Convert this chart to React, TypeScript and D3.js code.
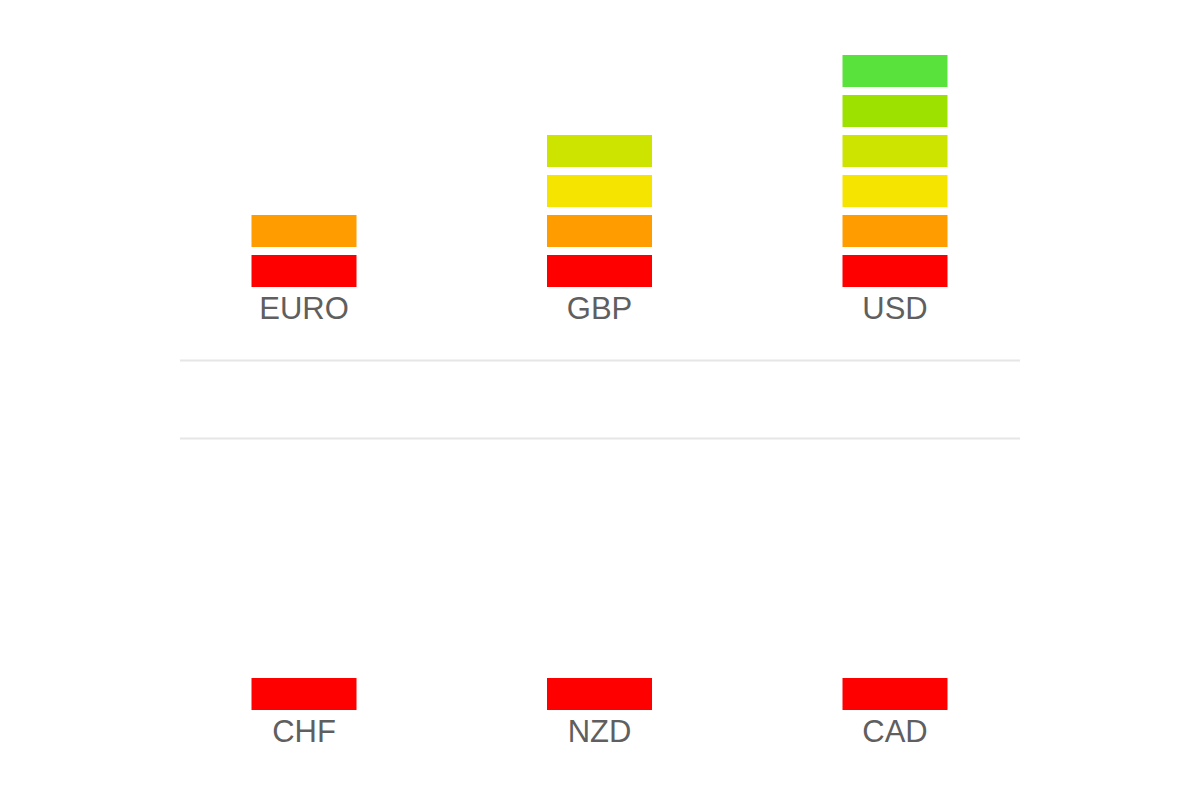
import React, { useEffect, useRef } from 'react';
import * as d3 from 'd3';

// strength levels per currency (number of stacked blocks)
const topCurrencies = ['EURO', 'GBP', 'USD'];
const topLevels = [2, 4, 6];
const bottomCurrencies = ['CHF', 'NZD', 'CAD'];
const bottomLevels = [1, 1, 1];

// colour for each block, from the bottom up
const levelColors = ['#ff0000', '#ff9c00', '#f5e300', '#cce400', '#9ce100', '#5ae23c'];

const App: React.FC = () => {
  const svgRef = useRef<SVGSVGElement>(null);

  useEffect(() => {
    if (!svgRef.current) return;
    const width = 1200;
    const height = 800;

    const svg = d3.select(svgRef.current);
    svg.selectAll('*').remove();
    svg.attr('viewBox', [0, 0, width, height]).attr('width', width).attr('height', height);

    svg.append('rect').attr('width', width).attr('height', height).attr('fill', '#ffffff');

    const x = d3.scalePoint<string>().domain(['0', '1', '2']).range([304, 895]);
    const blockWidth = 105;
    const gap = 8;

    const drawRow = (names: string[], levels: number[], baseY: number) => {
      const y = d3.scaleLinear().domain([0, 6]).range([baseY, baseY - 240]);
      const g = svg.append('g');
      names.forEach((name, i) => {
        const cx = x(String(i)) as number;
        const blocks = d3.range(levels[i]);
        g.selectAll(null)
          .data(blocks)
          .join('rect')
          .attr('x', cx - blockWidth / 2)
          .attr('y', (d) => y(d + 1))
          .attr('width', blockWidth)
          .attr('height', (d) => y(d) - y(d + 1) - gap)
          .attr('fill', (d) => levelColors[d]);
        g.append('text')
          .attr('x', cx)
          .attr('y', baseY + 24)
          .attr('text-anchor', 'middle')
          .attr('font-family', 'Liberation Sans, Arial, sans-serif')
          .attr('font-size', 31)
          .attr('fill', '#5f5f5f')
          .text(name);
      });
    };

    drawRow(topCurrencies, topLevels, 295);
    drawRow(bottomCurrencies, bottomLevels, 718);

    // separator lines between the two rows
    svg.selectAll('line.sep')
      .data([360.5, 438.5])
      .join('line')
      .attr('class', 'sep')
      .attr('x1', 180)
      .attr('x2', 1020)
      .attr('y1', (d) => d)
      .attr('y2', (d) => d)
      .attr('stroke', '#e6e6e6')
      .attr('stroke-width', 2);
  }, []);

  return (
    <div style={{ position: 'fixed', left: 0, top: 0, width: 1200, height: 800, background: '#fff' }}>
      <svg ref={svgRef} style={{ display: 'block' }}></svg>
    </div>
  );
};

export default App;
